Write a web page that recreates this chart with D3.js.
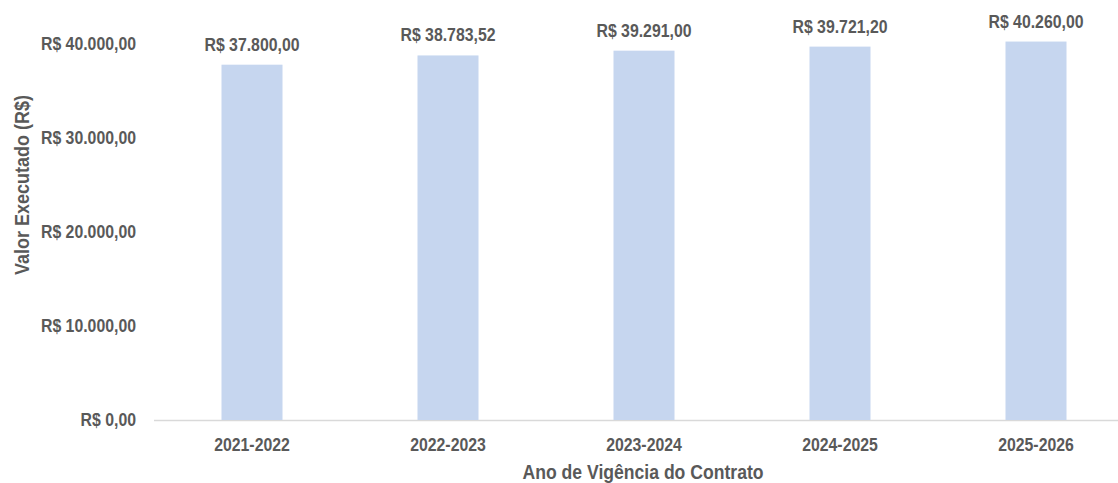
<!DOCTYPE html>
<html>
<head>
    <meta charset="UTF-8">
    <title>Valor Executado</title>
    <style>
        body { margin: 0; background: #fff; }
        text { font-family: "Liberation Sans", Arial, sans-serif; font-weight: bold; fill: #595959; }
    </style>
</head>
<body>
    <svg width="1118" height="483"></svg>
    <script src="https://cdn.jsdelivr.net/npm/d3@7/dist/d3.min.js"></script>
    <script>
        const categories = ["2021-2022", "2022-2023", "2023-2024", "2024-2025", "2025-2026"];
        const values = [37800.00, 38783.52, 39291.00, 39721.20, 40260.00];
        const yTicks = [0, 10000, 20000, 30000, 40000];

        const fmt = v => "R$ " + v.toLocaleString("pt-BR", { minimumFractionDigits: 2, maximumFractionDigits: 2 });

        // texts in the picture look horizontally condensed
        const sx = 0.88;
        const at = (px, py) => `translate(${px},${py}) scale(${sx},1)`;

        const svg = d3.select("svg"),
            left = 154,
            x = d3.scaleBand().domain(categories).range([left, left + 196 * 5]).padding(0),
            y = d3.scaleLinear().domain([0, 40000]).range([420, 44]);

        const barW = 61;
        const cx = c => x(c) + x.bandwidth() / 2;

        // baseline
        svg.append("line")
            .attr("x1", left).attr("x2", 1118)
            .attr("y1", y(0) + 0.5).attr("y2", y(0) + 0.5)
            .attr("stroke", "#d9d9d9").attr("stroke-width", 1.5);

        svg.selectAll(".bar")
            .data(values)
            .enter().append("rect")
            .attr("class", "bar")
            .attr("x", (d, i) => cx(categories[i]) - barW / 2)
            .attr("y", d => y(d))
            .attr("width", barW)
            .attr("height", d => y(0) - y(d))
            .attr("fill", "#c6d6ef");

        svg.selectAll(".val")
            .data(values)
            .enter().append("text")
            .attr("class", "val")
            .attr("transform", (d, i) => at(cx(categories[i]), y(d) - 14))
            .attr("text-anchor", "middle")
            .style("font-size", "18px")
            .text(fmt);

        svg.selectAll(".ytick")
            .data(yTicks)
            .enter().append("text")
            .attr("class", "ytick")
            .attr("transform", d => at(136, y(d)))
            .attr("dy", "0.35em")
            .attr("text-anchor", "end")
            .style("font-size", "18px")
            .text(fmt);

        svg.selectAll(".xtick")
            .data(categories)
            .enter().append("text")
            .attr("class", "xtick")
            .attr("transform", d => at(cx(d), 445))
            .attr("dy", "0.35em")
            .attr("text-anchor", "middle")
            .style("font-size", "18px")
            .text(d => d);

        svg.append("text")
            .attr("transform", at(643, 472))
            .attr("dy", "0.35em")
            .attr("text-anchor", "middle")
            .style("font-size", "20px")
            .text("Ano de Vigência do Contrato");

        svg.append("text")
            .attr("transform", "translate(22,185) rotate(-90) scale(1,1.1)")
            .attr("dy", "0.35em")
            .attr("text-anchor", "middle")
            .style("font-size", "18px")
            .text("Valor Executado (R$)");
    </script>
</body>
</html>
